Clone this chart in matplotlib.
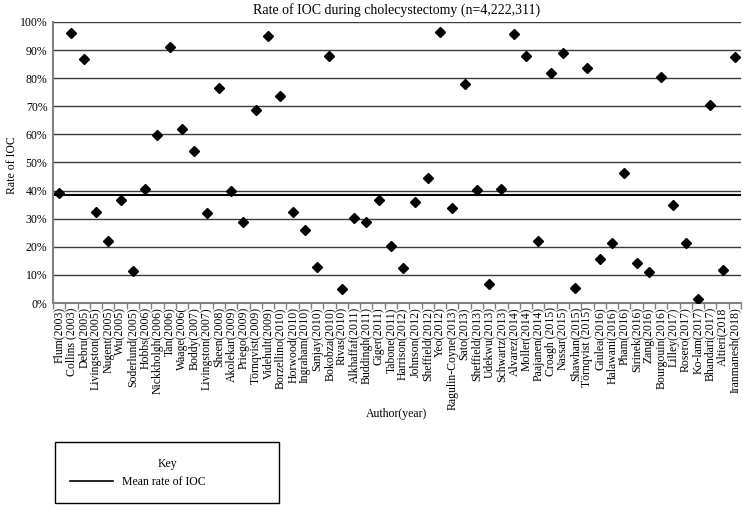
import numpy as np
import matplotlib
matplotlib.use('Agg')
import matplotlib.pyplot as plt
from matplotlib.lines import Line2D

plt.rcParams['font.family'] = ['Liberation Serif', 'DejaVu Serif']

# Data
authors = ['Flum(2003)', 'Collins (2003)', 'Debru(2005)', 'Livingston(2005)', 'Nugent(2005)',
           'Wu(2005)', 'Soderlund(2005)', 'Hobbs(2006)', 'Nickkholgh(2006)', 'Tan(2006)',
           'Waage(2006(', 'Boddy(2007)', 'Livingston(2007)', 'Sheen(2008)', 'Akolekar(2009)',
           'Priego(2009)', 'Törnqvist(2009)', 'Videhult(2009)', 'Borzellino(2010)', 'Horwood(2010)',
           'Ingraham(2010)', 'Sanjay(2010)', 'Bokobza(2010)', 'Rivas(2010)', 'Alkhaffaf(2011)',
           'Buddingh(2011)', 'Giger(2011)', 'Tabone(2011)', 'Harrison(2012)', 'Johnson(2012)',
           'Sheffield(2012)', 'Yeo(2012)', 'Ragulin-Coyne(2013)', 'Sato(2013)', 'Sheffield(2013)',
           'Udekwu(2013)', 'Schwartz(2013)', 'Alvarez(2014)', 'Moller(2014)', 'Paajanen(2014)',
           'Croagh (2015)', 'Nassar(2015)', 'Shawhan(2015)', 'Törnqvist (2015)', 'Giulea(2016)',
           'Halawani(2016)', 'Pham(2016)', 'Sirinek(2016)', 'Zang(2016)', 'Bourgouin(2016)',
           'Lilley(2017)', 'Rosero(2017)', 'Ko-lam(2017)', 'Bhandari(2017)', 'Altieri(2018',
           'Iranmanesh(2018)']
rates = [39.1, 96.0, 87.0, 32.4, 22.0, 36.8, 11.4, 40.6, 59.8, 91.0,
         62.0, 54.0, 32.2, 76.5, 40.0, 28.8, 68.6, 95.0, 73.7, 32.4,
         26.1, 12.8, 87.8, 5.0, 30.2, 29.0, 36.5, 20.3, 12.6, 35.9,
         44.6, 96.3, 33.7, 78.0, 40.3, 6.9, 40.6, 95.7, 88.0, 22.0,
         81.8, 88.9, 5.3, 83.6, 15.6, 21.4, 46.3, 14.2, 11.0, 80.4,
         35.0, 21.3, 1.6, 70.4, 11.8, 87.5]
mean_rate = 38.4

fig = plt.figure(figsize=(7.43, 5.05), dpi=100, facecolor='white')
ax = fig.add_axes([53/743, 1-303/505, 688/743, 281/505])

x = np.arange(len(authors))
ax.set_xlim(-0.5, len(authors)-0.5)
ax.set_ylim(0, 100)

for v in range(10, 101, 10):
    ax.axhline(v, color='#3a3a3a', lw=1.0, zorder=1)
mean_line = ax.axhline(mean_rate, color='black', lw=1.5, zorder=2, label='Mean rate of IOC')

ax.plot(x, rates, linestyle='none', marker='D', markersize=5, color='black', zorder=3)

ax.set_yticks(range(0, 101, 10))
ax.set_yticklabels([f'{v}%' for v in range(0, 101, 10)], fontsize=8.5)
ax.tick_params(axis='y', length=0, pad=4)

ax.set_xticks(x)
ax.set_xticklabels(authors, rotation=90, fontsize=8.5)
ax.set_xticks(np.arange(-0.5, len(authors)), minor=True)
ax.tick_params(axis='x', which='major', length=0, pad=3)
ax.tick_params(axis='x', which='minor', length=4, color='#808080', width=1)

for s in ['top', 'right']:
    ax.spines[s].set_visible(False)
for s in ['left', 'bottom']:
    ax.spines[s].set_color('#808080')
    ax.spines[s].set_linewidth(1.5)

ax.set_title('Rate of IOC during cholecystectomy (n=4,222,311)', fontsize=10, pad=6)
fig.text(12/743, 1-165/505, 'Rate of IOC', rotation=90, ha='center', va='center', fontsize=8.5)
fig.text(397/743, 1-414/505, 'Author(year)', ha='center', va='center', fontsize=8.5)

key = Line2D([], [], color='black', lw=1.2)
leg = fig.legend(handles=[key], labels=['Mean rate of IOC'], title='Key',
                 loc='lower left', bbox_to_anchor=(55/743, 2/505, 224/743, 60/505),
                 mode='expand', borderaxespad=0, fontsize=8.5, title_fontsize=8.5,
                 frameon=True, fancybox=False, edgecolor='black', framealpha=1,
                 handlelength=3.6, borderpad=1.3, labelspacing=0.5)
leg.get_frame().set_linewidth(1.0)

fig.savefig('out.png', dpi=100)
